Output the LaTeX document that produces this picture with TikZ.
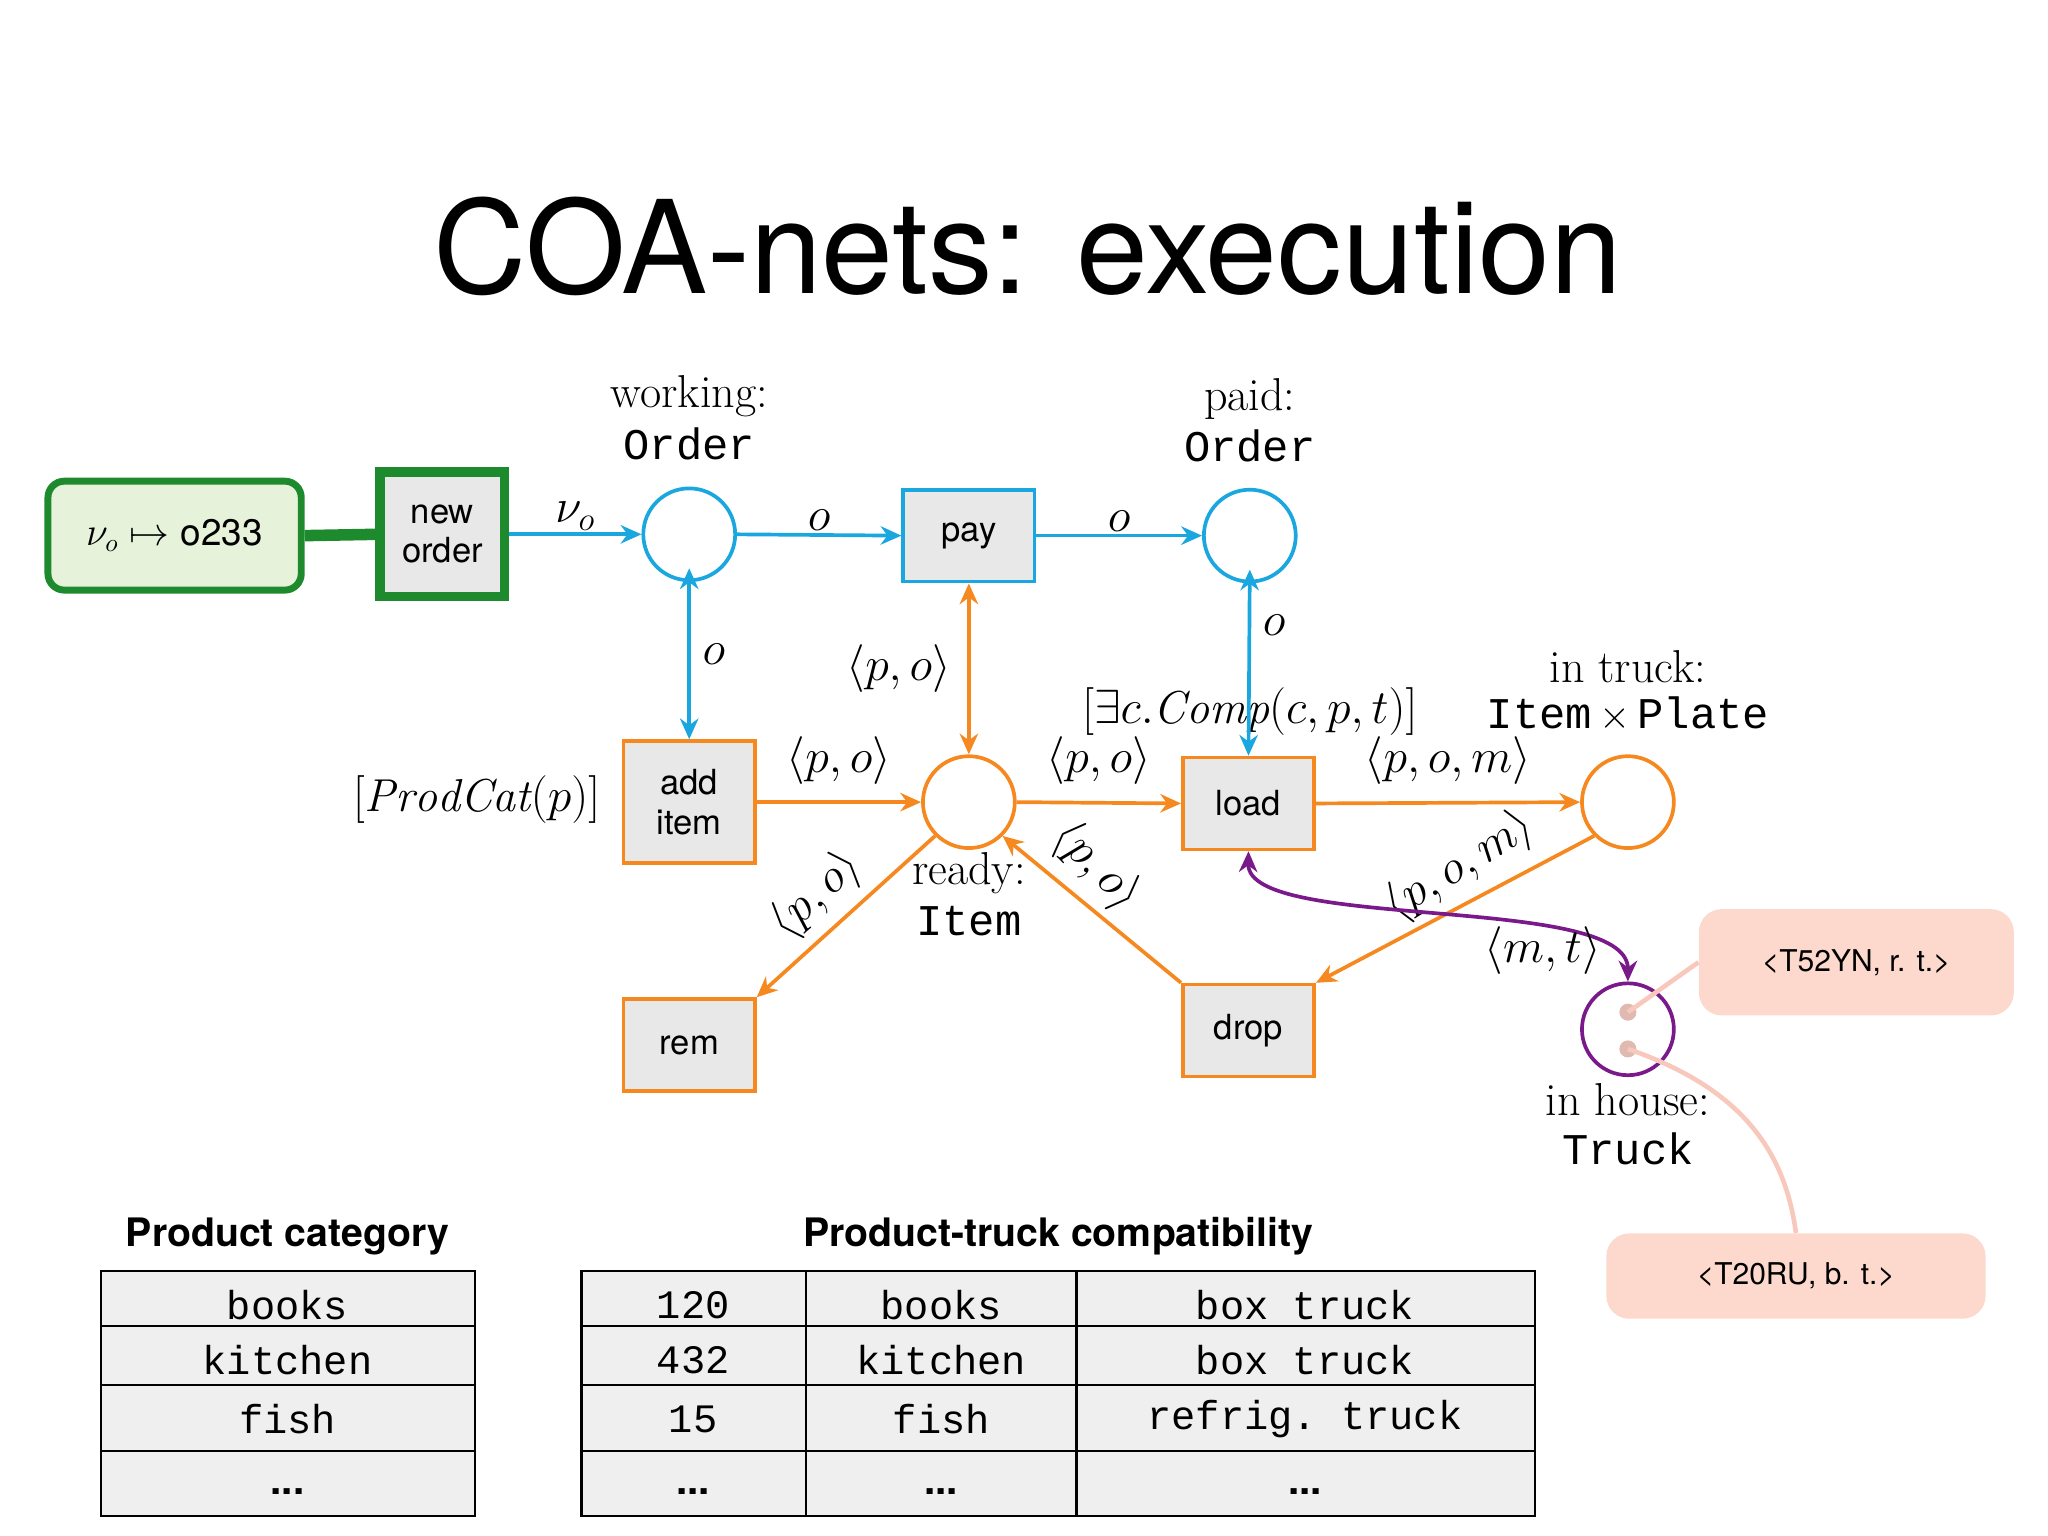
\documentclass[tikz,border=0pt]{standalone}
\usepackage{fontspec}
\setsansfont{TeX Gyre Heros}
\setmonofont{Liberation Mono}
\usetikzlibrary{arrows.meta}
\definecolor{cblue}{HTML}{1AA7E0}
\definecolor{corange}{HTML}{F5891F}
\definecolor{cpurple}{HTML}{7A1A8A}
\definecolor{cgreen}{HTML}{1E8A2E}
\definecolor{cgreenfill}{HTML}{E6F2D9}
\definecolor{cgray}{HTML}{E8E8E8}
\definecolor{cpink}{HTML}{FCD9CC}
\definecolor{cpinkline}{HTML}{F8C8BC}
\begin{document}
\begin{tikzpicture}[x=0.02cm,y=-0.02cm,
  place/.style={circle,draw,line width=1.6pt,minimum size=1.4cm,inner sep=0pt},
  trans/.style={draw,line width=1.6pt,fill=cgray,minimum width=2cm,minimum height=1.4cm,font=\sffamily\fontsize{15}{17}\selectfont,align=center,inner sep=0pt},
  arc/.style={line width=1.6pt,-{Stealth[length=9pt,width=8pt]}},
  barc/.style={line width=1.6pt,{Stealth[length=9pt,width=8pt]}-{Stealth[length=9pt,width=8pt]}},
  lab/.style={font=\fontsize{20}{22}\selectfont,inner sep=1pt},
  mono/.style={font=\ttfamily\fontsize{19}{21}\selectfont,inner sep=1pt},
  cell/.style={font=\ttfamily\fontsize{17.5}{19}\selectfont},
  hdr/.style={font=\sffamily\bfseries\fontsize{17}{19}\selectfont},
  call/.style={draw=none,fill=cpink,rounded corners=0.35cm,font=\sffamily\fontsize{13}{15}\selectfont}
]
\useasboundingbox (0,0) rectangle (1560,1170);
\node[font=\sffamily\fontsize{56}{62}\selectfont] (title) at (783,188) {COA-nets: execution};

% green
\node[draw=cgreen,line width=3pt,fill=cgreenfill,rounded corners=0.25cm,minimum width=3.86cm,minimum height=1.66cm,font=\fontsize{16}{18}\selectfont] (bind) at (133,408) {$\nu_o\mapsto$ \textsf{o233}};
\node[trans,draw=cgreen,line width=4pt,minimum width=1.9cm,minimum height=1.9cm] (new) at (337,407) {new\\order};
\draw[cgreen,line width=5pt] (bind.east) -- (new.west);

% places
\node[place,draw=cblue] (working) at (525,407) {};
\node[place,draw=cblue] (paid) at (952,408) {};
\node[place,draw=corange] (ready) at (738,611) {};
\node[place,draw=corange] (truck) at (1240,611) {};
\node[place,draw=cpurple] (house) at (1240,784) {};
\fill[cpinkline!80!gray] (1240,771) circle (0.13cm) (1240,799) circle (0.13cm);
\coordinate (d1) at (1240,771);
\coordinate (d2) at (1240,799);

% transitions
\node[trans,draw=cblue] (pay) at (738,408) {pay};
\node[trans,draw=corange,minimum height=1.86cm] (add) at (525,611) {add\\item};
\node[trans,draw=corange] (load) at (951,612) {load};
\node[trans,draw=corange] (rem) at (525,796) {rem};
\node[trans,draw=corange] (drop) at (951,785) {drop};

% labels
\node[lab] at (525,302) {working:};
\node[mono] at (525,338) {Order};
\node[lab] at (952,304) {paid:};
\node[mono] at (952,340) {Order};
\node[lab] at (952,542) {$[\exists c.\mathit{Comp}(c,p,t)]$};
\node[lab] at (1240,508) {in truck:};
\node[mono] at (1240,544) {Item\,$\times$\,Plate};
\node[lab] at (363,609) {$[\mathit{ProdCat}(p)]$};
\node[lab] at (738,665) {ready:};
\node[mono] at (738,702) {Item};
\node[lab] at (1240,838) {in house:};
\node[mono] at (1240,875) {Truck};

% arcs
\draw[arc,cblue] (new.east) -- (working.west) node[lab,midway,above,black] {$\nu_o$};
\draw[arc,cblue] (working.east) -- (pay.west) node[lab,midway,above,black] {$o$};
\draw[arc,cblue] (pay.east) -- (paid.west) node[lab,midway,above,black] {$o$};
\draw[barc,cblue] (working.south) ++(0,6pt) -- (add.north) node[lab,midway,right=4pt,black] {$o$};
\draw[barc,cblue] (paid.south) ++(0,6pt) -- (load.north) node[lab,pos=0.3,right=4pt,black] {$o$};
\draw[barc,corange] (pay.south) -- (ready.north) node[lab,pos=0.5,left=6pt,black] {$\langle p,o\rangle$};
\draw[arc,corange] (add.east) -- (ready.west) node[lab,midway,above=6pt,black] {$\langle p,o\rangle$};
\draw[arc,corange] (ready.east) -- (load.west) node[lab,midway,above=6pt,black] {$\langle p,o\rangle$};
\draw[arc,corange] (load.east) -- (truck.west) node[lab,midway,above=6pt,black] {$\langle p,o,m\rangle$};
\draw[arc,corange] (ready.south west) -- (rem.north east);
\node[lab,rotate=42] at (622,682) {$\langle p,o\rangle$};
\draw[arc,corange] (drop.north west) -- (ready.south east);
\node[lab,rotate=-45] at (835,660) {$\langle p,o\rangle$};
\draw[arc,corange] (truck.south west) -- (drop.north east);
\node[lab,rotate=32] at (1112,660) {$\langle p,o,m\rangle$};
\draw[barc,cpurple] (load.south) .. controls (950,710) and (1240,680) .. (house.north);
\node[lab] at (1175,724) {$\langle m,t\rangle$};

% callouts
\node[call,minimum width=4.8cm,minimum height=1.62cm] (c1) at (1414,733) {<T52YN, r. t.>};
\node[call,minimum width=5.78cm,minimum height=1.3cm] (c2) at (1368,972) {<T20RU, b. t.>};
\draw[cpinkline,line width=2pt] (d1) -- (c1.west);
\draw[cpinkline,line width=2pt] (d2) .. controls (1330,830) and (1360,880) .. (c2.north);

% tables
\node[hdr] at (219,942) {Product category};
\fill[cgray!70] (77,968) rectangle (362,1155);
\draw[line width=1pt] (77,968) rectangle (362,1155);
\foreach \y in {1010,1055,1105} \draw[line width=1pt] (77,\y) -- (362,\y);
\node[cell] at (219,994) {books};
\node[cell] at (219,1036) {kitchen};
\node[cell] at (219,1081) {fish};
\node[cell] at (219,1136) {\textsf{\textbf{...}}};

\node[hdr] at (806,942) {Product-truck compatibility};
\fill[cgray!70] (443,968) rectangle (1169,1155);
\draw[line width=1pt] (443,968) rectangle (1169,1155);
\foreach \y in {1010,1055,1105} \draw[line width=1pt] (443,\y) -- (1169,\y);
\draw[line width=1pt] (614,968) -- (614,1155) (820,968) -- (820,1155);
\node[cell] at (528,994) {120};
\node[cell] at (717,994) {books};
\node[cell] at (994,994) {box truck};
\node[cell] at (528,1036) {432};
\node[cell] at (717,1036) {kitchen};
\node[cell] at (994,1036) {box truck};
\node[cell] at (528,1081) {15};
\node[cell] at (717,1081) {fish};
\node[cell] at (994,1081) {refrig. truck};
\node[cell] at (528,1136) {\textsf{\textbf{...}}};
\node[cell] at (717,1136) {\textsf{\textbf{...}}};
\node[cell] at (994,1136) {\textsf{\textbf{...}}};
\end{tikzpicture}
\end{document}
